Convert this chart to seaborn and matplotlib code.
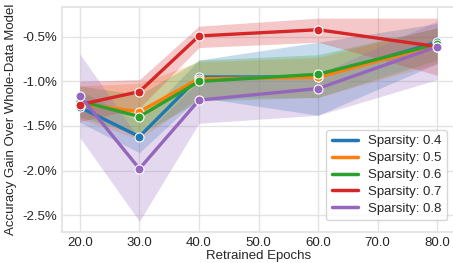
import matplotlib
matplotlib.use("Agg")
import matplotlib.pyplot as plt
from matplotlib.ticker import FuncFormatter
from matplotlib.lines import Line2D
import seaborn as sns
import pandas as pd

epochs = [20, 30, 40, 60, 80]
sparsities = ["0.4", "0.5", "0.6", "0.7", "0.8"]

mean_04 = [-1.29, -1.62, -0.95, -0.95, -0.56]
mean_05 = [-1.25, -1.34, -0.97, -0.955, -0.59]
mean_06 = [-1.22, -1.395, -1.00, -0.92, -0.58]
mean_07 = [-1.26, -1.115, -0.49, -0.42, -0.61]
mean_08 = [-1.16, -1.98, -1.21, -1.08, -0.61]

low_04 = [-1.46, -1.80, -1.18, -1.38, -0.80]
high_04 = [-1.10, -1.45, -0.76, -0.56, -0.35]
low_05 = [-1.42, -1.65, -1.18, -1.18, -0.80]
high_05 = [-1.05, -1.02, -0.78, -0.73, -0.40]
low_06 = [-1.40, -1.60, -1.22, -1.18, -0.76]
high_06 = [-1.05, -1.15, -0.76, -0.70, -0.40]
low_07 = [-1.45, -1.30, -0.62, -0.56, -0.93]
high_07 = [-1.00, -0.98, -0.38, -0.29, -0.29]
low_08 = [-1.63, -2.57, -1.47, -1.38, -0.98]
high_08 = [-0.69, -1.65, -1.00, -0.92, -0.32]

means = [mean_04, mean_05, mean_06, mean_07, mean_08]
lows = [low_04, low_05, low_06, low_07, low_08]
highs = [high_04, high_05, high_06, high_07, high_08]

sns.set_theme(style="whitegrid", rc={"grid.color": "#e3e3e3", "axes.edgecolor": "#e3e3e3",
                                     "grid.linewidth": 1.0})
plt.rcParams["font.family"] = ["Liberation Sans", "DejaVu Sans"]

rows = []
for s, m in zip(sparsities, means):
    for e, v in zip(epochs, m):
        rows.append({"Retrained Epochs": e, "gain": v, "Sparsity": f"Sparsity: {s}"})
df = pd.DataFrame(rows)

colors = sns.color_palette("tab10", 5)

fig = plt.figure(figsize=(4.53, 2.63), dpi=100)
ax = fig.add_axes([62 / 453, 1 - 232 / 263, (455 - 62) / 453, (232 - 7) / 263])

sns.lineplot(data=df, x="Retrained Epochs", y="gain", hue="Sparsity",
             palette=colors, marker="o", markersize=6.5, markeredgecolor="white",
             markeredgewidth=0.8, linewidth=2.4, ax=ax, legend=False)

for c, lo, hi in zip(colors, lows, highs):
    ax.fill_between(epochs, lo, hi, color=c, alpha=0.25, linewidth=0)

ax.set_xlim(17, 83)
ax.set_ylim(-2.69, -0.165)
ax.set_xticks([20, 30, 40, 50, 60, 70, 80])
ax.xaxis.set_major_formatter(FuncFormatter(lambda v, p: f"{v:.1f}"))
ax.set_yticks([-2.5, -2.0, -1.5, -1.0, -0.5])
ax.yaxis.set_major_formatter(FuncFormatter(lambda v, p: f"{v:.1f}%"))
ax.tick_params(labelsize=9.5, length=0, pad=3.5)
ax.set_xlabel("Retrained Epochs", fontsize=9.5, labelpad=1)
ax.set_ylabel("Accuracy Gain Over Whole-Data Model", fontsize=9.5, labelpad=4)

handles = [Line2D([0], [0], color=c, lw=2.5) for c in colors]
labels = [f"Sparsity: {s}" for s in sparsities]
ax.legend(handles, labels, loc="lower right", fontsize=9.5, frameon=True,
          bbox_to_anchor=(0.99, 0.035), borderaxespad=0.3, handlelength=2.0,
          labelspacing=0.35)

fig.savefig("out.png", dpi=100)
